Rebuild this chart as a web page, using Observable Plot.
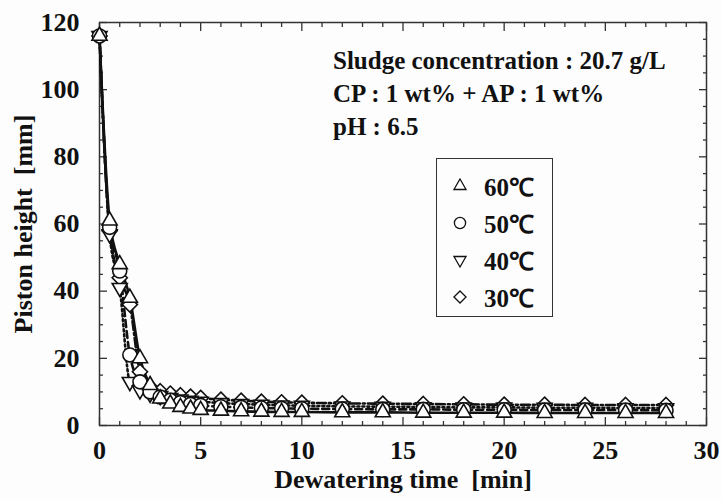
<!DOCTYPE html>
<html>
<head>
<meta charset="utf-8">
<script src="https://cdn.jsdelivr.net/npm/d3@7"></script>
<script src="https://cdn.jsdelivr.net/npm/@observablehq/plot@0.6"></script>
<style>
  html, body { margin: 0; padding: 0; background: #fdfdfd; }
  #wrap { position: relative; width: 722px; height: 500px; font-family: "Liberation Serif", "Times New Roman", serif; font-weight: bold; color: #111; }
  #note { position: absolute; left: 333px; top: 44px; font-size: 25px; line-height: 33px; white-space: nowrap; }
  #legend { position: absolute; left: 436px; top: 158px; width: 117px; height: 159px; border: 1.5px solid #333; box-sizing: border-box; padding-top: 8px; }
  .row { display: flex; align-items: center; height: 37px; font-size: 25px; }
  .row svg { margin-left: 15px; margin-right: 16px; }
</style>
</head>
<body>
<div id="wrap"></div>
<script>
// ---- data ----
const times = [0, 0.5, 1, 1.5, 2, 2.5, 3, 3.5, 4, 4.5, 5, 6, 7, 8, 9, 10, 12, 14, 16, 18, 20, 22, 24, 26, 28];
const h60 = [116, 61, 48, 38, 20, 12, 8, 6.5, 5.5, 5, 4.6, 4.4, 4.2, 4.1, 4.0, 4.0, 3.9, 3.9, 3.8, 3.8, 3.8, 3.7, 3.7, 3.7, 3.7];
const h50 = [116, 59, 46, 21, 13, 10, 8.5, 7.5, 6.8, 6.3, 6.0, 5.6, 5.4, 5.2, 5.1, 5.0, 4.9, 4.8, 4.8, 4.7, 4.7, 4.6, 4.6, 4.6, 4.5];
const h40 = [116, 57, 41, 13, 10.5, 9.5, 8.8, 8.2, 7.8, 7.4, 7.1, 6.7, 6.4, 6.2, 6.0, 5.9, 5.7, 5.6, 5.5, 5.4, 5.4, 5.3, 5.3, 5.2, 5.2];
const h30 = [116, 58, 44, 36, 16, 11.5, 10.2, 9.5, 9.0, 8.6, 8.2, 7.7, 7.4, 7.1, 6.9, 6.8, 6.6, 6.5, 6.4, 6.3, 6.2, 6.2, 6.1, 6.1, 6.1];
const seriesNames = ["60℃", "50℃", "40℃", "30℃"];
const xTicks = [0, 5, 10, 15, 20, 25, 30];
const yTicks = [0, 20, 40, 60, 80, 100, 120];
const noteLines = ["Sludge concentration : 20.7 g/L", "CP : 1 wt% + AP : 1 wt%", "pH : 6.5"];

// ---- symbols ----
const s3 = Math.sqrt(3);
const triangleDown = {
  draw(ctx, size) {
    const y = -Math.sqrt(size / (s3 * 3));
    ctx.moveTo(0, -y * 2);
    ctx.lineTo(-s3 * y, y);
    ctx.lineTo(s3 * y, y);
    ctx.closePath();
  }
};
const styles = [
  {values: h60, symbol: d3.symbolTriangle, r: 5.6, dash: null},
  {values: h50, symbol: d3.symbolCircle, r: 7, dash: "7,4"},
  {values: h40, symbol: triangleDown, r: 5.6, dash: "2,3"},
  {values: h30, symbol: d3.symbolDiamond2, r: 6.8, dash: "9,3,2,3"}
];

const tables = styles.map((s, i) => times.map((t, j) => ({t, h: s.values[j], series: seriesNames[i]})));

const minorX = d3.range(0, 31, 1).filter(d => d % 5 !== 0);
const minorY = d3.range(0, 121, 5).filter(d => d % 20 !== 0);
const noText = () => "";
const axisCol = "#333";

const marks = [
  Plot.frame({stroke: axisCol, strokeWidth: 1.5}),
  // inward ticks on all four sides
  Plot.axisX(xTicks, {anchor: "bottom", tickSize: -8, tickFormat: noText, label: null, stroke: axisCol, strokeWidth: 1.3}),
  Plot.axisX(minorX, {anchor: "bottom", tickSize: -4, tickFormat: noText, label: null, stroke: axisCol, strokeWidth: 1.3}),
  Plot.axisX(xTicks, {anchor: "top", tickSize: -8, tickFormat: noText, label: null, stroke: axisCol, strokeWidth: 1.3}),
  Plot.axisX(minorX, {anchor: "top", tickSize: -4, tickFormat: noText, label: null, stroke: axisCol, strokeWidth: 1.3}),
  Plot.axisY(yTicks, {anchor: "left", tickSize: -8, tickFormat: noText, label: null, stroke: axisCol, strokeWidth: 1.3}),
  Plot.axisY(minorY, {anchor: "left", tickSize: -4, tickFormat: noText, label: null, stroke: axisCol, strokeWidth: 1.3}),
  Plot.axisY(yTicks, {anchor: "right", tickSize: -8, tickFormat: noText, label: null, stroke: axisCol, strokeWidth: 1.3}),
  Plot.axisY(minorY, {anchor: "right", tickSize: -4, tickFormat: noText, label: null, stroke: axisCol, strokeWidth: 1.3}),
  // labels
  Plot.axisX(xTicks, {anchor: "bottom", tickSize: 0, tickPadding: 15, fontSize: 26, fontWeight: "bold", fill: "#111",
    label: "Dewatering time  [min]", labelAnchor: "center", labelOffset: 62, labelArrow: "none"}),
  Plot.axisY(yTicks, {anchor: "left", tickSize: 0, tickPadding: 20, fontSize: 26, fontWeight: "bold", fill: "#111",
    label: "Piston height  [mm]", labelAnchor: "center", labelOffset: 86, labelArrow: "none"})
];
styles.forEach((s, i) => {
  marks.push(Plot.line(tables[i], {x: "t", y: "h", stroke: "#111", strokeWidth: 2.6, strokeDasharray: s.dash, curve: "monotone-x"}));
});
styles.slice().reverse().forEach((s, k) => {
  const i = styles.length - 1 - k;
  marks.push(Plot.dot(tables[i], {x: "t", y: "h", symbol: s.symbol, r: s.r, fill: "white", stroke: "#111", strokeWidth: 1.6}));
});

const chart = Plot.plot({
  width: 722,
  height: 500,
  marginLeft: 99,
  marginRight: 16,
  marginTop: 22,
  marginBottom: 75,
  style: {fontFamily: "'Liberation Serif', 'Times New Roman', serif", fontWeight: "bold", fontSize: "25px", background: "#fdfdfd", color: "#111"},
  x: {domain: [0, 30], axis: null},
  y: {domain: [0, 120], axis: null},
  marks
});

const wrap = document.getElementById("wrap");
wrap.appendChild(chart);

// annotation text
const note = document.createElement("div");
note.id = "note";
note.innerHTML = noteLines.map(l => `<div>${l}</div>`).join("");
wrap.appendChild(note);

// legend
const legend = document.createElement("div");
legend.id = "legend";
styles.forEach((s, i) => {
  const row = document.createElement("div");
  row.className = "row";
  const svg = d3.create("svg").attr("width", 16).attr("height", 16).attr("viewBox", "-8 -8 16 16");
  const sc = 0.8;
  svg.append("path").attr("d", d3.symbol(s.symbol, Math.PI * (s.r * sc) ** 2)())
    .attr("fill", "white").attr("stroke", "#111").attr("stroke-width", 1.3);
  row.appendChild(svg.node());
  const span = document.createElement("span");
  span.textContent = seriesNames[i];
  row.appendChild(span);
  legend.appendChild(row);
});
wrap.appendChild(legend);
</script>
</body>
</html>
